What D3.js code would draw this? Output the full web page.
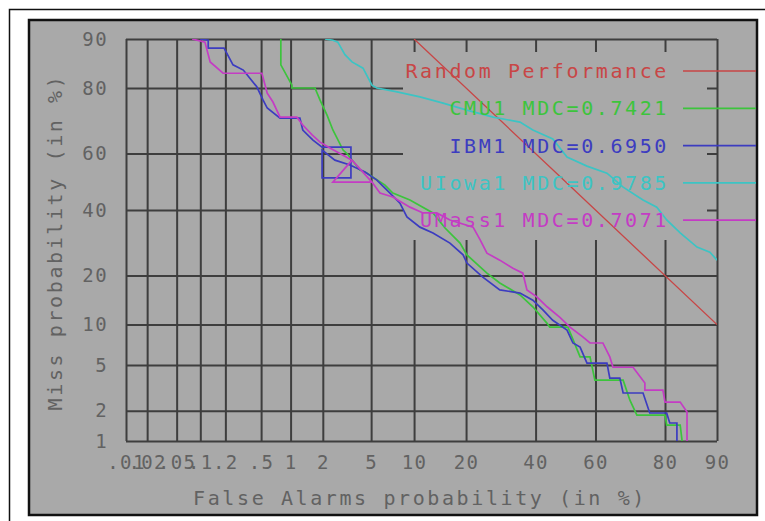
<!DOCTYPE html>
<html>
<head>
<meta charset="utf-8">
<script src="https://cdn.jsdelivr.net/npm/d3@7"></script>
<style>
  body { margin: 0; background: #fff; }
  svg { display: block; }
  text { font-family: "DejaVu Sans Mono", monospace; }
</style>
</head>
<body>
<div id="chart"></div>
<script>
// tick values (in %) and their labels
const xTickValues = [0.01, 0.02, 0.05, 0.1, 0.2, 0.5, 1, 2, 5, 10, 20, 40, 60, 80, 90];
const xTickLabels = [".01", ".02", ".05", ".1", ".2", ".5", "1", "2", "5", "10", "20", "40", "60", "80", "90"];
const yTickValues = [1, 2, 5, 10, 20, 40, 60, 80, 90];
const yTickLabels = ["1", "2", "5", "10", "20", "40", "60", "80", "90"];

// systems shown in the legend
const seriesNames = ["CMU1", "IBM1", "UIowa1", "UMass1"];
const seriesMdc = ["0.7421", "0.6950", "0.9785", "0.7071"];

// random performance line (false alarm %, miss %)
const randomFa = [10, 50, 90];
const randomMiss = [90, 50, 10];

// DET points (false alarm %, miss %)
const cmuFa = [0.8, 0.8, 1.03, 1.03, 1.7, 1.89, 2.18, 2.45, 2.99, 3.22, 4.1, 4.65, 6.33, 7.2, 9.4, 13.1, 15.4, 18.6, 20.2, 25.3, 28.9, 35.0, 39.1, 43.8, 44.7, 50.8, 54.9, 58.2, 59.8, 68.7, 70.7, 72.7, 80.0, 80.4, 83.4, 83.8];
const cmuMiss = [90, 85.3, 80.7, 80, 80, 76.8, 72.5, 67.9, 61.2, 60, 54.2, 53.1, 48.8, 46.0, 43.5, 39.0, 33.9, 29.1, 25.6, 20.6, 18.2, 15.5, 13.1, 10.2, 9.6, 9.6, 5.8, 5.8, 3.75, 3.75, 2.5, 1.81, 1.81, 1.45, 1.45, 1.0];

const ibmFa = [0.099, 0.125, 0.125, 0.193, 0.245, 0.32, 0.45, 0.525, 0.58, 0.785, 1.23, 1.31, 1.63, 1.97, 3.47, 3.47, 1.97, 1.97, 2.55, 3.41, 4.49, 5.52, 6.54, 8.06, 8.98, 10.9, 13.1, 16.4, 19.3, 20.2, 24.2, 28.9, 35.0, 39.1, 42.4, 45.7, 50.5, 52.5, 54.9, 57.2, 63.7, 64.6, 67.7, 68.7, 74.4, 76.2, 80.4, 81.1, 82.7, 82.7];
const ibmMiss = [90, 89.8, 88.5, 88.5, 85.3, 84.2, 80.3, 76.8, 74.6, 71.6, 71.6, 67.9, 64.6, 62.2, 62.2, 51.4, 51.4, 61.2, 57.7, 56.0, 53.5, 50.6, 47.0, 42.4, 37.6, 34.2, 32.3, 29.1, 25.6, 23.3, 19.6, 16.6, 15.9, 14.4, 12.5, 10.7, 9.17, 7.4, 6.9, 5.19, 5.19, 3.9, 3.9, 2.9, 2.9, 1.9, 1.9, 1.52, 1.52, 1.0];

const iowaFa = [2.09, 2.45, 2.70, 3.10, 3.54, 4.33, 5.07, 5.52, 7.7, 10.9, 15.0, 20.2, 27.0, 35.0, 39.1, 45.7, 50.5, 57.2, 63.7, 68.7, 74.4, 78.0, 80.4, 83.4, 86.7, 88.9, 90];
const iowaMiss = [90, 89.8, 89.5, 87.3, 85.9, 84.6, 80.7, 80.0, 79.0, 77.7, 76.0, 74.0, 71.9, 70.4, 67.9, 65.0, 58.8, 55.6, 53.1, 48.1, 43.5, 41.0, 36.6, 32.3, 27.9, 26.4, 24.1];

const umassFa = [0.079, 0.114, 0.132, 0.188, 0.51, 0.58, 0.665, 0.785, 1.15, 1.31, 1.60, 1.89, 2.31, 3.54, 2.45, 5.07, 3.54, 5.07, 5.82, 7.2, 9.4, 11.4, 13.8, 16.4, 21.7, 23.5, 25.3, 28.9, 32.8, 35.9, 37.2, 40.4, 43.8, 48.1, 51.5, 55.8, 58.2, 62.4, 64.6, 65.6, 71.6, 74.9, 74.9, 79.5, 80.0, 83.4, 84.8, 84.8];
const umassMiss = [90, 89.5, 85.9, 83.5, 83.5, 78.7, 76.3, 71.9, 71.9, 69.5, 66.3, 63.9, 61.9, 57.7, 49.9, 49.9, 57.7, 49.9, 46.0, 44.6, 41.0, 39.0, 39.0, 36.6, 34.2, 30.1, 26.1, 24.1, 21.9, 20.6, 16.6, 15.1, 13.1, 11.2, 9.6, 8.2, 7.4, 7.4, 5.8, 4.8, 4.8, 3.54, 3.08, 3.08, 2.4, 2.4, 1.94, 1.0];

const bg = "#a9a9a9";
const gridColor = "#3e3e3e";
const textColor = "#626262";
const randomColor = "#c84646";
const seriesColors = ["#3cc43c", "#3c3cc0", "#3cc4c4", "#c43cc4"];

// inverse normal CDF (Acklam) for the DET probit axes
function probit(p) {
  const a = [-3.969683028665376e+01, 2.209460984245205e+02, -2.759285104469687e+02, 1.383577518672690e+02, -3.066479806614716e+01, 2.506628277459239e+00];
  const b = [-5.447609879822406e+01, 1.615858368580409e+02, -1.556989798598866e+02, 6.680131188771972e+01, -1.328068155288572e+01];
  const c = [-7.784894002430293e-03, -3.223964580411365e-01, -2.400758277161838e+00, -2.549732539343734e+00, 4.374664141464968e+00, 2.938163982698783e+00];
  const d = [7.784695709041462e-03, 3.224671290700398e-01, 2.445134137142996e+00, 3.754408661907416e+00];
  const plow = 0.02425;
  let q, r;
  if (p < plow) {
    q = Math.sqrt(-2 * Math.log(p));
    return (((((c[0]*q+c[1])*q+c[2])*q+c[3])*q+c[4])*q+c[5]) / ((((d[0]*q+d[1])*q+d[2])*q+d[3])*q+1);
  }
  if (p > 1 - plow) {
    q = Math.sqrt(-2 * Math.log(1 - p));
    return -(((((c[0]*q+c[1])*q+c[2])*q+c[3])*q+c[4])*q+c[5]) / ((((d[0]*q+d[1])*q+d[2])*q+d[3])*q+1);
  }
  q = p - 0.5; r = q * q;
  return (((((a[0]*r+a[1])*r+a[2])*r+a[3])*r+a[4])*r+a[5])*q / (((((b[0]*r+b[1])*r+b[2])*r+b[3])*r+b[4])*r+1);
}
const pr = v => probit(v / 100);

const svgWidth = 765, svgHeight = 521;
const plot = { left: 126, right: 717, top: 39, bottom: 441 };

const svg = d3.select("#chart").append("svg")
  .attr("width", svgWidth)
  .attr("height", svgHeight);

// outer frame and grey panel
svg.append("rect")
  .attr("x", 9.5).attr("y", 9.5).attr("width", 800).attr("height", 600)
  .attr("fill", "#fff").attr("stroke", "#111").attr("stroke-width", 1.5);
svg.append("rect")
  .attr("x", 29).attr("y", 20).attr("width", 728).attr("height", 495)
  .attr("fill", bg).attr("stroke", "#111").attr("stroke-width", 2.5);

const x = d3.scaleLinear()
  .domain([pr(0.01), pr(90)])
  .range([plot.left, plot.right]);
const y = d3.scaleLinear()
  .domain([pr(90), pr(1)])
  .range([plot.top, plot.bottom]);

// axes with full-length ticks used as the grid
const xAxis = d3.axisBottom(x)
  .tickValues(xTickValues.map(pr))
  .tickFormat((d, i) => xTickLabels[i])
  .tickSize(-(plot.bottom - plot.top))
  .tickPadding(15);
const yAxis = d3.axisLeft(y)
  .tickValues(yTickValues.map(pr))
  .tickFormat((d, i) => yTickLabels[i])
  .tickSize(-(plot.right - plot.left))
  .tickPadding(18);

const gx = svg.append("g")
  .attr("transform", `translate(0,${plot.bottom})`)
  .call(xAxis);
const gy = svg.append("g")
  .attr("transform", `translate(${plot.left},0)`)
  .call(yAxis);

[gx, gy].forEach(g => {
  g.select(".domain").remove();
  g.selectAll(".tick line").attr("stroke", gridColor).attr("stroke-width", 2);
  g.selectAll(".tick text")
    .attr("fill", textColor)
    .style("font-size", "19px")
    .style("letter-spacing", "1.4px");
});

// legend area hides the grid behind it
svg.append("rect")
  .attr("x", 403).attr("y", 52).attr("width", 304).attr("height", 188)
  .attr("fill", bg);

// axis titles
svg.append("text")
  .attr("x", 420).attr("y", 505)
  .attr("text-anchor", "middle")
  .attr("fill", textColor)
  .style("font-size", "20px")
  .style("letter-spacing", "2.6px")
  .text("False Alarms probability (in %)");
svg.append("text")
  .attr("transform", "translate(62,242) rotate(-90)")
  .attr("text-anchor", "middle")
  .attr("fill", textColor)
  .style("font-size", "20px")
  .style("letter-spacing", "2.6px")
  .text("Miss probability (in %)");

// curves
svg.append("clipPath").attr("id", "clip")
  .append("rect")
  .attr("x", plot.left).attr("y", plot.top)
  .attr("width", plot.right - plot.left).attr("height", plot.bottom - plot.top);

const line = d3.line()
  .x(d => x(pr(d[0])))
  .y(d => y(pr(d[1])));

const curves = [
  { fa: randomFa, miss: randomMiss, color: randomColor, w: 1.3 },
  { fa: cmuFa, miss: cmuMiss, color: seriesColors[0], w: 1.7 },
  { fa: ibmFa, miss: ibmMiss, color: seriesColors[1], w: 1.7 },
  { fa: iowaFa, miss: iowaMiss, color: seriesColors[2], w: 1.7 },
  { fa: umassFa, miss: umassMiss, color: seriesColors[3], w: 1.7 }
];

svg.append("g").attr("clip-path", "url(#clip)")
  .selectAll("path")
  .data(curves)
  .enter()
  .append("path")
  .attr("d", c => line(c.fa.map((f, i) => [f, c.miss[i]])))
  .attr("fill", "none")
  .attr("stroke", c => c.color)
  .attr("stroke-width", c => c.w);

// legend
const legendLabels = ["Random Performance"].concat(seriesNames.map((n, i) => `${n} MDC=${seriesMdc[i]}`));
const legendColors = [randomColor].concat(seriesColors);

const legend = svg.append("g")
  .selectAll("g")
  .data(legendLabels)
  .enter()
  .append("g")
  .attr("transform", (d, i) => `translate(0,${71 + i * 37.3})`);

legend.append("text")
  .attr("x", 669)
  .attr("y", 7)
  .attr("text-anchor", "end")
  .attr("fill", (d, i) => legendColors[i])
  .style("font-size", "20px")
  .style("letter-spacing", "2.6px")
  .text(d => d);

legend.append("line")
  .attr("x1", 683).attr("x2", 756)
  .attr("stroke", (d, i) => legendColors[i])
  .attr("stroke-width", 1.7);
</script>
</body>
</html>
